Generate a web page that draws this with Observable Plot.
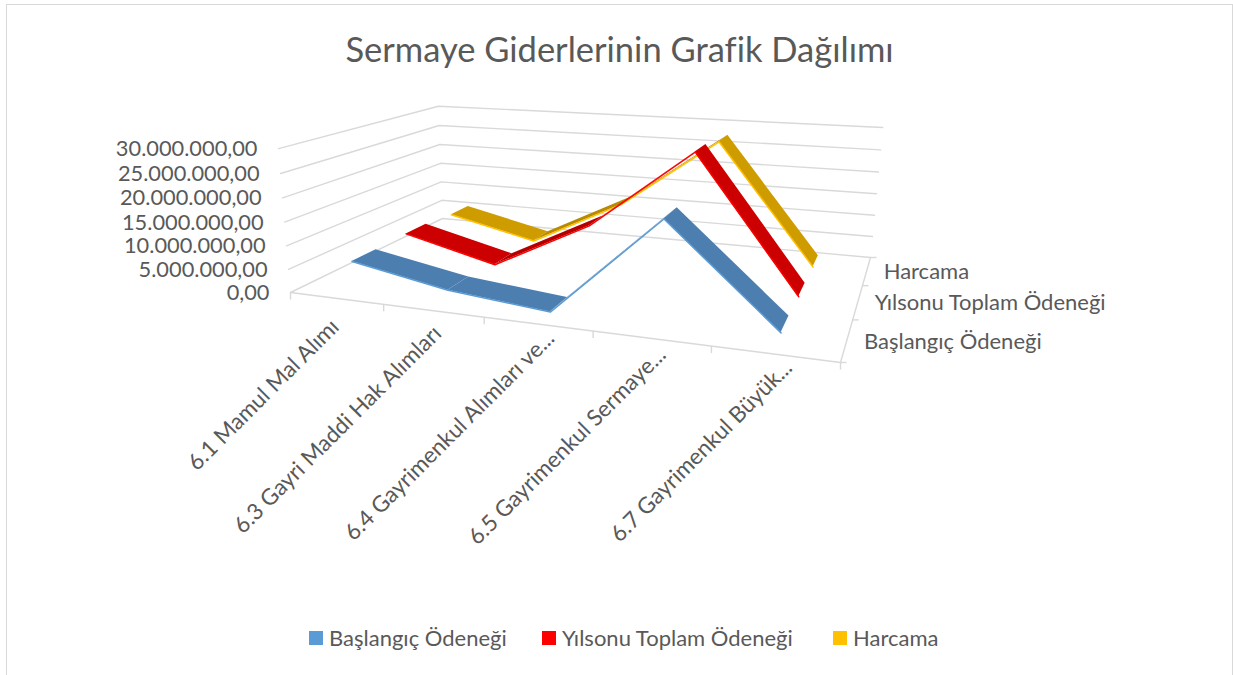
<!DOCTYPE html>
<html lang="tr"><head><meta charset="utf-8">
<script src="https://cdn.jsdelivr.net/npm/d3@7"></script>
<script src="https://cdn.jsdelivr.net/npm/@observablehq/plot@0.6"></script>
<style>
html,body{margin:0;padding:0;background:#fff;overflow:hidden}
#frame{position:absolute;left:6px;top:4px;width:1227px;height:700px;border:1.5px solid #d9d9d9;box-sizing:border-box}
#page{position:absolute;left:0;top:0;width:1233px;height:675px;font-family:Lato,"Open Sans",sans-serif;color:#595959}
#title{position:absolute;left:0;right:0;top:26px;margin-left:6px;text-align:center;font-size:34.5px;line-height:46px;height:46px}
#chart{position:absolute;left:0;top:80px}
#legend{position:absolute;left:0;top:624px;height:28px;width:1233px;font-size:22px;line-height:28px}
#legend span{position:absolute;top:0;white-space:nowrap}
#legend i{position:absolute;top:7px;width:14px;height:14px}
svg{display:block}
</style></head><body>
<div id="page"><div id="frame"></div><div id="title">Sermaye Giderlerinin Grafik Dağılımı</div><div id="chart"></div><div id="legend"></div></div>
<script>
const categories = ["6.1 Mamul Mal Alımı","6.3 Gayri Maddi Hak Alımları","6.4 Gayrimenkul Alımları ve...","6.5 Gayrimenkul Sermaye...","6.7 Gayrimenkul Büyük..."];
const seriesNames = ["Başlangıç Ödeneği","Yılsonu Toplam Ödeneği","Harcama"];
const baslangic = [6000000, 2200000, 200000, 20600000, 1600000];
const yilsonu   = [6300000, 1200000, 12000000, 29000000, 1300000];
const harcama   = [5600000,  900000, 11700000, 27500000, 1100000];
const yTicks = [0,5000000,10000000,15000000,20000000,25000000,30000000];
const yMax = 30000000;

const fillColors = ["#4c7fb0","#cc0000","#cf9c00"];
const edgeColors = ["#5b9bd5","#ff0000","#ffc000"];
const allSeries = [baslangic, yilsonu, harcama];
const labelShift = [-14,-6,6,3,7]; // slide of each category label along its own 45° direction

// 3D camera of the chart: floor corners on the page and the vanishing point of the value axis
const W = 1233, top0 = 80, plotH = 540;
const q = {p0:[290,292], p1:[840,362], p2:[870,257], p3:[442,218], vp:[561,3550], s:-0.0423};
function camera(){
  const [x0,y0]=q.p0,[x1,y1]=q.p1,[x2,y2]=q.p2,[x3,y3]=q.p3;
  const sx=x0-x1+x2-x3, sy=y0-y1+y2-y3, dx1=x1-x2, dy1=y1-y2, dx2=x3-x2, dy2=y3-y2;
  const den=dx1*dy2-dx2*dy1, g=(sx*dy2-dx2*sy)/den, h=(dx1*sy-sx*dy1)/den;
  return {a:x1-x0+g*x1,b:x3-x0+h*x3,c:x0,d:y1-y0+g*y1,e:y3-y0+h*y3,f:y0,g,h};
}
const m = camera();
function proj(u,d,val){
  const v=val/yMax, zs=q.s*v;
  const w=m.g*u+m.h*d+1+zs;
  return [(m.a*u+m.b*d+m.c+zs*q.vp[0])/w,(m.d*u+m.e*d+m.f+zs*q.vp[1])/w];
}
const uCat = i => (i+0.5)/categories.length;
const bandW = 0.14;
const dFront = s => (s+0.5)/seriesNames.length-bandW/2;

const grid=[];
yTicks.forEach((t,k)=>{
  [[0,0],[0,1],[1,1]].forEach(([u,d])=>{const p=proj(u,d,t);grid.push({z:"g"+k,x:p[0],y:p[1]});});
});
[[0,0],[1,0],[1,1]].forEach(([u,d])=>{const p=proj(u,d,0);grid.push({z:"f",x:p[0],y:p[1]});});
const xTickRows=d3.range(0,categories.length+1).map(i=>{const p=proj(i/categories.length,0,0);return {x:p[0],y:p[1]};});
const dTickRows=d3.range(0,seriesNames.length+1).map(i=>{const p=proj(1,i/seriesNames.length,0);return {x:p[0],y:p[1]};});

// ribbons, back to front; a rising stretch faces away from the light and is a little darker
const ribbonMarks=[];
[2,1,0].forEach(s=>{
  const vals=allSeries[s], d0=dFront(s), d1=d0+bandW, edge=[];
  vals.forEach((val,i)=>{
    const f=proj(uCat(i),d0,val), b=proj(uCat(i),d1,val);
    edge.push({x:f[0],y:f[1]});
    if(i<vals.length-1){
      const f2=proj(uCat(i+1),d0,vals[i+1]), b2=proj(uCat(i+1),d1,vals[i+1]);
      const rows=[{x1:f[0],y1:f[1],x2:b[0],y2:b[1]},{x1:f2[0],y1:f2[1],x2:b2[0],y2:b2[1]}];
      const fill=vals[i+1]>val ? d3.color(fillColors[s]).darker(0.35).formatHex() : fillColors[s];
      ribbonMarks.push(Plot.area(rows,{x1:"x1",y1:"y1",x2:"x2",y2:"y2",fill,curve:"linear"}));
    }
  });
  ribbonMarks.push(Plot.line(edge,{x:"x",y:"y",stroke:edgeColors[s],strokeWidth:1.5,curve:"linear"}));
});

const fmt = t => d3.format(",.2f")(t).replace(/,/g,"#").replace(".",",").replace(/#/g,".");
const font = "Lato, 'Open Sans', sans-serif";
const plot = Plot.plot({
  width:W, height:plotH, margin:0,
  x:{domain:[0,W],range:[0,W],axis:null},
  y:{domain:[top0,top0+plotH],range:[0,plotH],axis:null},
  marks:[
    Plot.line(grid,{x:"x",y:"y",z:"z",stroke:"#d9d9d9",strokeWidth:1.4,curve:"linear"}),
    Plot.link(xTickRows,{x1:"x",y1:"y",x2:"x",y2:d=>d.y+7,stroke:"#d9d9d9",strokeWidth:1.4}),
    Plot.link(dTickRows,{x1:"x",y1:"y",x2:d=>d.x+6,y2:"y",stroke:"#d9d9d9",strokeWidth:1.4}),
    ...ribbonMarks,
    Plot.text(yTicks,{
      x:t=>proj(0,0,t)[0]-21, y:t=>proj(0,0,t)[1]+0.5, text:fmt,
      textAnchor:"end", fontSize:21.8, fill:"#595959", fontFamily:font
    }),
    Plot.text(categories,{
      x:(c,i)=>proj(uCat(i),0,0)[0]+9+labelShift[i]*Math.SQRT1_2,
      y:(c,i)=>proj(uCat(i),0,0)[1]+15-labelShift[i]*Math.SQRT1_2, text:c=>c,
      rotate:-45, textAnchor:"end", fontSize:22.5, fill:"#595959", fontFamily:font
    }),
    Plot.text(seriesNames,{
      x:(c,i)=>proj(1,(i+0.5)/3,0)[0]+17, y:(c,i)=>proj(1,(i+0.5)/3,0)[1]+1.5, text:c=>c,
      textAnchor:"start", fontSize:22, fill:"#595959", fontFamily:font
    })
  ]
});
document.getElementById("chart").append(plot);

const legendLeft=[309,542,833];
const lg=document.getElementById("legend");
seriesNames.forEach((n,i)=>{
  const sw=document.createElement("i");sw.style.left=legendLeft[i]+"px";sw.style.background=edgeColors[i];
  const sp=document.createElement("span");sp.style.left=(legendLeft[i]+20)+"px";sp.textContent=n;
  lg.append(sw,sp);
});
</script>
</body></html>
